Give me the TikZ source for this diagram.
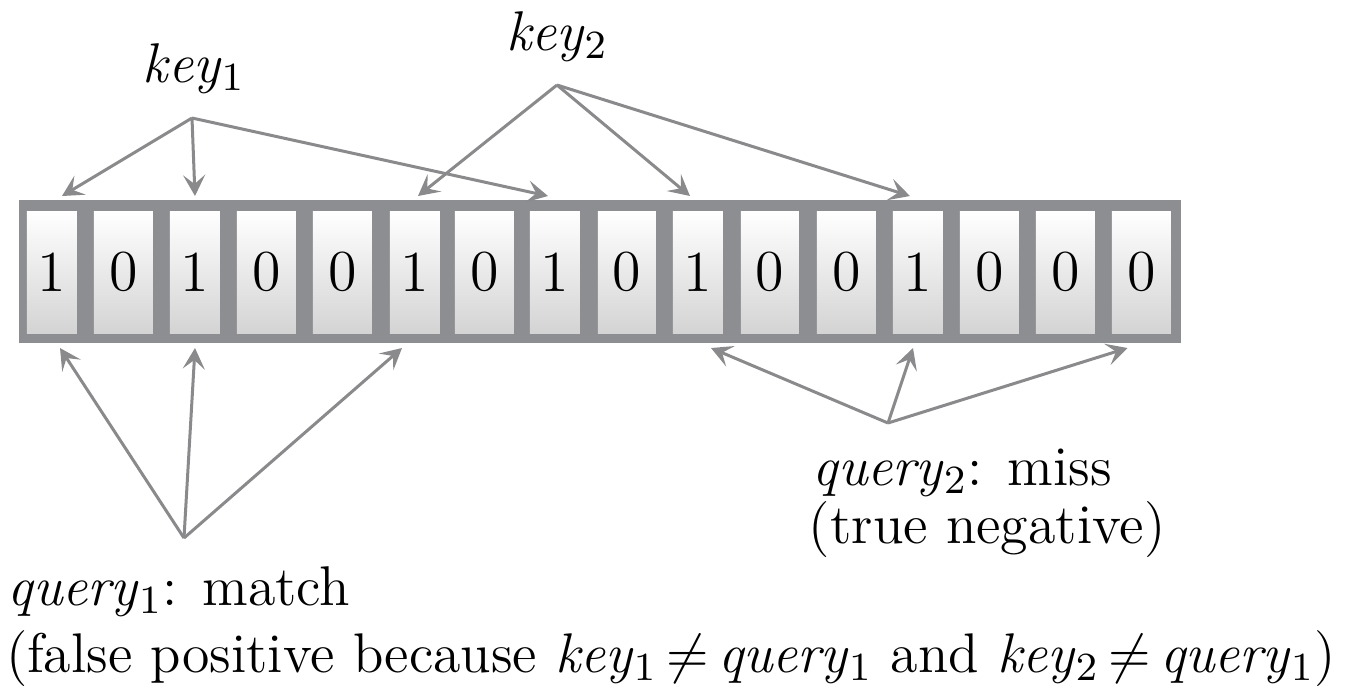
\documentclass[tikz,border=0pt]{standalone}
\usepackage{fontspec}
\usepackage{graphicx}
\usetikzlibrary{arrows.meta,calc}
\definecolor{bargray}{RGB}{141,142,146}
\definecolor{arrgray}{RGB}{138,138,140}
\newcommand\pxu{0.2pt}
\newcommand\neqs{\ensuremath{\mkern3mu\neq\mkern3mu}}
\tikzset{
  cellbox/.style={draw=none, inner sep=0pt, minimum height=122*\pxu,
    top color=white, bottom color=black!17, font=\fontsize{11.6}{12}\selectfont},
  lbl/.style={inner sep=0pt, anchor=base west, font=\fontsize{11.2}{13}\selectfont},
  conn/.style={draw=arrgray, line width=0.6pt, -{Stealth[length=4.2pt,width=4.4pt,inset=1.8pt]}},
}
\begin{document}
\begin{tikzpicture}[x=0.2pt,y=-0.2pt]
\useasboundingbox (0,0) rectangle (1351,698);
% bar
\node[fill=bargray, inner sep=0pt, minimum width=1162*\pxu, minimum height=143*\pxu, anchor=north west] (bar) at (18,199) {};
% cells
\foreach \i/\l/\w/\d in {1/27/50/1, 2/94/59/0, 3/170/50/1, 4/237/59/0, 5/313/59/0, 6/390/50/1, 7/455/59/0, 8/530/50/1, 9/598/58/0, 10/673/50/1, 11/741/58/0, 12/817/59/0, 13/893/50/1, 14/960/59/0, 15/1036/59/0, 16/1112/59/0}{
  \node[cellbox, minimum width=\w*\pxu] (c\i) at (\l+\w/2,272) {\d};
}
% labels
\node[lbl] (k1) at (142,82) {\textit{key}$_1$};
\node[lbl] (k2) at (505,50) {\textit{key}$_2$};
\node[lbl] (q2) at (812,485) {\textit{query}$_2$: miss};
\node[lbl] (q2b) at (808,543) {(true negative)};
\node[lbl] (q1) at (7,605) {\textit{query}$_1$: match};
\node[lbl] (q1b) at (5,672) {\resizebox{266pt}{!}{(false positive because \textit{key}$_1$\neqs\textit{query}$_1$ and \textit{key}$_2$\neqs\textit{query}$_1$)}};
% apex points
\coordinate (k1a) at (192,118);
\coordinate (k2a) at (557,85);
\coordinate (q1a) at (184,538);
\coordinate (q2a) at (888,423);
% key arrows
\draw[conn] (k1a) -- ($(c1.north |- bar.north)+(10,-3)$);
\draw[conn] (k1a) -- ($(c3.north |- bar.north)+(0,-3)$);
\draw[conn] (k1a) -- ($(c8.north |- bar.north)+(-7,-3)$);
\draw[conn] (k2a) -- ($(c6.north |- bar.north)+(3,-3)$);
\draw[conn] (k2a) -- ($(c10.north |- bar.north)+(-8,-3)$);
\draw[conn] (k2a) -- ($(c13.north |- bar.north)+(-8,-3)$);
% query arrows
\draw[conn] (q1a) -- ($(c1.south |- bar.south)+(8,4)$);
\draw[conn] (q1a) -- ($(c3.south |- bar.south)+(0,4)$);
\draw[conn] (q1a) -- ($(c6.south |- bar.south)+(-13,4)$);
\draw[conn] (q2a) -- ($(c10.south |- bar.south)+(13,4)$);
\draw[conn] (q2a) -- ($(c13.south |- bar.south)+(-5,4)$);
\draw[conn] (q2a) -- ($(c16.south |- bar.south)+(-14,4)$);
\end{tikzpicture}
\end{document}
